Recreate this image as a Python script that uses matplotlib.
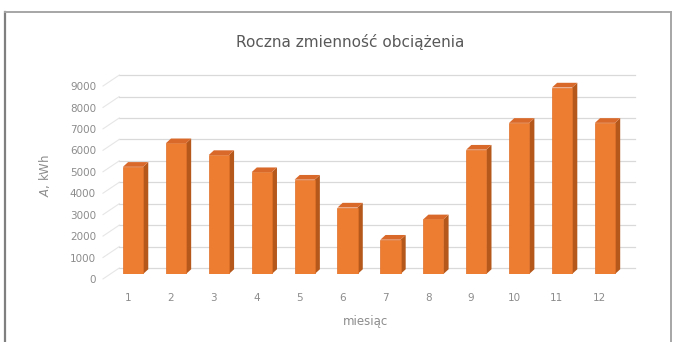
import matplotlib.pyplot as plt
import matplotlib.transforms as mtransforms
from matplotlib.patches import Rectangle, Polygon

# data
months = [1, 2, 3, 4, 5, 6, 7, 8, 9, 10, 11, 12]
load_kwh = [5000, 6100, 5550, 4750, 4400, 3100, 1600, 2550, 5800, 7050, 8700, 7050]
y_ticks = [0, 1000, 2000, 3000, 4000, 5000, 6000, 7000, 8000, 9000]

W, H = 677, 342
fig = plt.figure(figsize=(W / 100, H / 100), dpi=100)
fig.patch.set_facecolor('white')

# frame of the chart object
fig.add_artist(plt.Line2D([5 / W, 5 / W], [0, 1 - 12 / H], color='#7f7f7f', lw=1.6))
fig.add_artist(plt.Line2D([5 / W, 671 / W], [1 - 12 / H, 1 - 12 / H], color='#a6a6a6', lw=1.4))
fig.add_artist(plt.Line2D([671 / W, 671 / W], [0, 1 - 12 / H], color='#a6a6a6', lw=1.4))

ax_left, ax_right = 103, 635
ax_bottom, ax_top = 274, 80
ax = fig.add_axes([ax_left / W, 1 - ax_bottom / H,
                   (ax_right - ax_left) / W, (ax_bottom - ax_top) / H])
ax.set_xlim(0.3, 12.7)
ax.set_ylim(0, 9050)
for s in ax.spines.values():
    s.set_visible(False)

# depth of the back wall in data units
wall_dx, wall_up, front_down = 0.38, 280, 230
bar_dx, bar_dy = 0.12, 220
bar_w = 0.47

# gridlines on the back wall with perspective connectors on the left
for v in y_ticks:
    ax.plot([0.3 + wall_dx, 12.7], [v + wall_up, v + wall_up], color='#d9d9d9', lw=0.9,
            zorder=1, clip_on=False)
    ax.plot([0.3, 0.3 + wall_dx], [v - front_down, v + wall_up], color='#e6e6e6', lw=0.8,
            zorder=1, clip_on=False)

front = '#ED7D31'
side = '#B5581C'
top = '#D9692A'
for m, v in zip(months, load_kwh):
    x0 = m - bar_w / 2
    x1 = m + bar_w / 2
    ax.add_patch(Polygon([(x1, 0), (x1 + bar_dx, bar_dy), (x1 + bar_dx, v + bar_dy), (x1, v)],
                         closed=True, facecolor=side, edgecolor='none', zorder=3))
    ax.add_patch(Polygon([(x0, v), (x1, v), (x1 + bar_dx, v + bar_dy), (x0 + bar_dx, v + bar_dy)],
                         closed=True, facecolor=top, edgecolor='none', zorder=3))
    ax.add_patch(Rectangle((x0, 0), bar_w, v, facecolor=front, edgecolor='#E07028',
                           lw=0.5, zorder=4))

ax.set_yticks(y_ticks)
ax.set_yticklabels([str(t) for t in y_ticks], color='#8c8c8c', fontsize=7.5)
ax.set_xticks([m - 0.12 for m in months])
ax.set_xticklabels([str(m) for m in months], color='#8c8c8c', fontsize=7.5)
ax.tick_params(length=0)
ax.tick_params(axis='y', pad=5)
ax.tick_params(axis='x', pad=14)
shift = mtransforms.ScaledTranslation(0, -0.05, fig.dpi_scale_trans)
for lbl in ax.get_yticklabels():
    lbl.set_transform(lbl.get_transform() + shift)

fig.text(45 / W, 1 - 175 / H, r'$\it{A}$, kWh', rotation=90, ha='center', va='center',
         color='#8c8c8c', fontsize=8.5)
fig.text(365 / W, 1 - 321 / H, 'miesiąc', ha='center', va='center',
         color='#8c8c8c', fontsize=8.5)
fig.text(350 / W, 1 - 42 / H, 'Roczna zmienność obciążenia', ha='center', va='center',
         color='#595959', fontsize=11)

fig.savefig('out.png', dpi=100, facecolor='white')
